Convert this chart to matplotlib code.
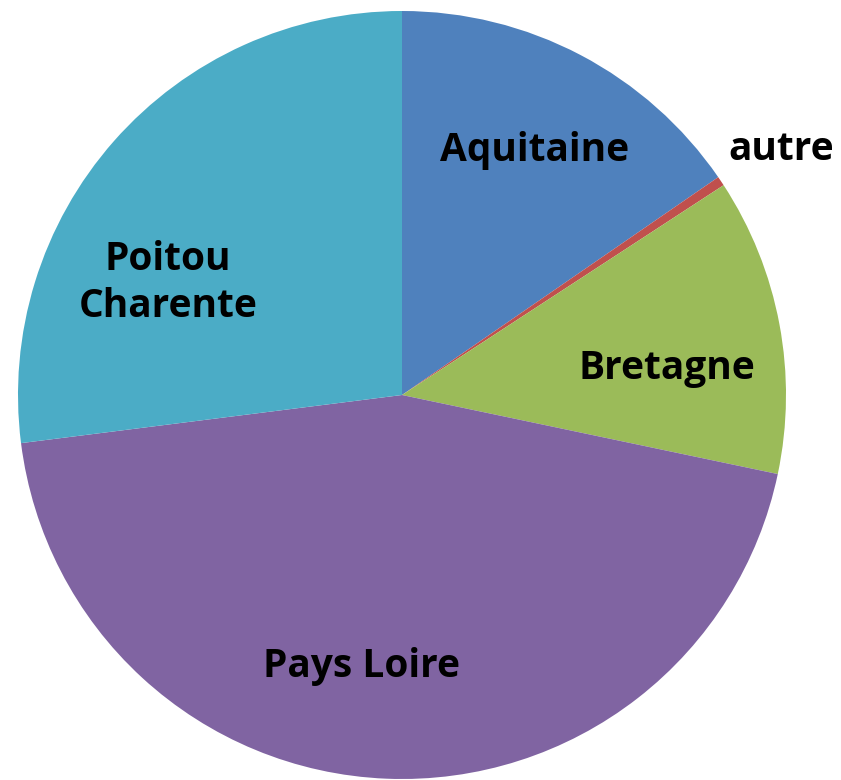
import matplotlib.pyplot as plt

# Share of each region (percent)
regions = ["Aquitaine", "autre", "Bretagne", "Pays Loire", "Poitou\nCharente"]
shares = [15.4, 0.4, 12.5, 44.7, 27.0]
colors = ["#4F81BD", "#C0504D", "#9BBB59", "#8064A2", "#4BACC6"]

# label anchor points in pixel space (x from left, y from top)
label_pos = [(535, 150), (781, 150), (667, 368), (362, 667), (168, 283)]

W, H = 841, 780
fig = plt.figure(figsize=(W / 100, H / 100), dpi=100)
ax = fig.add_axes([0, 0, 1, 1])

ax.pie(shares, colors=colors, startangle=90, counterclock=False,
       radius=384, center=(402, H - 395), frame=True,
       wedgeprops=dict(linewidth=0))

ax.set_xlim(0, W)
ax.set_ylim(0, H)
ax.set_aspect("equal")
ax.axis("off")

for name, (px, py) in zip(regions, label_pos):
    ax.text(px, H - py, name, ha="center", va="center", fontsize=28,
            fontweight="bold", family="Open Sans", color="black",
            linespacing=1.25)

plt.savefig("out.png", dpi=100)
plt.close()
